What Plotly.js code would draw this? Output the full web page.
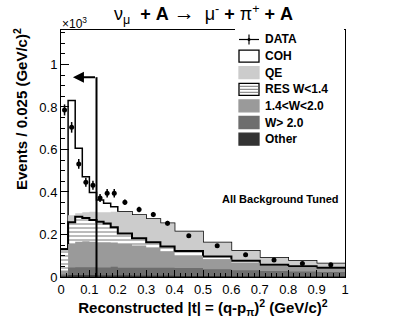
<!DOCTYPE html>
<html>
<head>
<meta charset="utf-8">
<script src="https://cdn.plot.ly/plotly-3.0.1.min.js"></script>
<style>
html, body { margin: 0; padding: 0; background: #fff; }
#chart { width: 407px; height: 328px; }
</style>
</head>
<body>
<div id="chart"></div>
<script>
// |t| binning, (GeV/c)^2 -- 0.025 wide up to 0.2, then 0.05, then 0.1
var binEdges = [0, 0.025, 0.05, 0.075, 0.1, 0.125, 0.15, 0.175, 0.2, 0.25, 0.3, 0.35, 0.4, 0.5, 0.6, 0.7, 0.8, 0.9, 1.0];

// data points (x10^3 events / 0.025 (GeV/c)^2)
var dataT = [0.0125, 0.0375, 0.0625, 0.0875, 0.1125, 0.1375, 0.1625, 0.1875, 0.225, 0.275, 0.325, 0.375, 0.45, 0.55, 0.65, 0.75, 0.85, 0.95];
var dataY = [0.786, 0.704, 0.532, 0.446, 0.432, 0.372, 0.394, 0.394, 0.352, 0.318, 0.294, 0.253, 0.194, 0.147, 0.105, 0.080, 0.063, 0.058];
var dataErr = [0.026, 0.025, 0.023, 0.021, 0.021, 0.019, 0.020, 0.020, 0.013, 0.013, 0.012, 0.011, 0.007, 0.006, 0.005, 0.005, 0.004, 0.004];

// top of each layer of the stacked MC (cumulative, read per bin)
var cohTop   = [0.132, 0.830, 0.606, 0.472, 0.398, 0.362, 0.347, 0.331, 0.307, 0.292, 0.273, 0.253, 0.214, 0.162, 0.124, 0.091, 0.076, 0.064];
var qeTop    = [0.132, 0.290, 0.300, 0.305, 0.307, 0.305, 0.305, 0.307, 0.307, 0.292, 0.273, 0.253, 0.214, 0.162, 0.124, 0.091, 0.076, 0.064];
var resTop   = [0.130, 0.258, 0.284, 0.278, 0.268, 0.260, 0.252, 0.234, 0.205, 0.182, 0.163, 0.143, 0.122, 0.096, 0.077, 0.058, 0.051, 0.044];
var w14Top   = [0.030, 0.155, 0.166, 0.168, 0.166, 0.164, 0.163, 0.162, 0.155, 0.148, 0.136, 0.120, 0.100, 0.084, 0.068, 0.052, 0.046, 0.038];
var w20Top   = [0.012, 0.045, 0.046, 0.046, 0.046, 0.045, 0.045, 0.048, 0.044, 0.044, 0.043, 0.043, 0.042, 0.036, 0.032, 0.028, 0.026, 0.024];
var otherTop = [0.004, 0.008, 0.008, 0.008, 0.008, 0.007, 0.007, 0.007, 0.007, 0.006, 0.006, 0.006, 0.005, 0.005, 0.004, 0.004, 0.003, 0.003];

// signal region cut
var cutT = 0.125;
var cutY = 0.94;
var cutArrowEnd = 0.042;

var legendLabels = ['DATA', 'COH', 'QE', 'RES W&lt;1.4', '1.4&lt;W&lt;2.0', 'W&gt; 2.0', 'Other'];

var COLORS = {
    coh: '#ffffff',
    qe: '#cccccc',
    res: '#ffffff',
    w14: '#9a9a9a',
    w20: '#6e6e6e',
    other: '#333333'
};
var FONT = 'Liberation Sans, Arial, Helvetica, sans-serif';
var SP = '\u00a0\u00a0';

// plot frame in pixels (ROOT pad)
var PLOT = { l: 61, t: 30, w: 284, h: 247 };
function px2x(px) { return (px - PLOT.l) / PLOT.w; }
function px2y(py) { return (PLOT.t + PLOT.h - py) / PLOT.h; }

// histogram drawn as a filled step line, ROOT THStack style (largest first)
function stepTrace(tops, fillcolor, lineColor, lineWidth, pattern) {
    var tr = {
        x: binEdges,
        y: tops.concat([tops[tops.length - 1]]),
        type: 'scatter',
        mode: 'lines',
        line: { shape: 'hv', color: lineColor, width: lineWidth },
        fill: 'tozeroy',
        fillcolor: fillcolor,
        showlegend: false,
        hoverinfo: 'skip'
    };
    if (pattern) tr.fillpattern = pattern;
    return tr;
}

var traces = [
    stepTrace(cohTop, COLORS.coh, '#000', 1.5),
    stepTrace(qeTop, COLORS.qe, COLORS.qe, 0),
    stepTrace(resTop, COLORS.res, '#000', 2,
        { shape: '-', bgcolor: '#ffffff', fgcolor: '#555555', size: 4, solidity: 0.2 }),
    stepTrace(w14Top, COLORS.w14, COLORS.w14, 0),
    stepTrace(w20Top, COLORS.w20, COLORS.w20, 0),
    stepTrace(otherTop, COLORS.other, COLORS.other, 0),
    {
        x: dataT,
        y: dataY,
        type: 'scatter',
        mode: 'markers',
        marker: { color: '#000', size: 5 },
        error_y: { type: 'data', array: dataErr, visible: true, color: '#000', thickness: 1.5, width: 0 },
        showlegend: false,
        hoverinfo: 'skip'
    }
];

// cut line + arrow
var shapes = [
    { type: 'line', xref: 'x', yref: 'y', x0: cutT, x1: cutT, y0: 0, y1: cutY, line: { color: '#000', width: 2 } },
    // legend pad covers the frame, as in the original
    { type: 'rect', xref: 'paper', yref: 'paper', x0: px2x(235), x1: px2x(344), y0: px2y(150), y1: px2y(27),
      fillcolor: '#fff', line: { width: 0 } }
];
var annotations = [
    { xref: 'x', yref: 'y', axref: 'x', ayref: 'y', x: cutArrowEnd, y: cutY, ax: cutT, ay: cutY,
      text: '', showarrow: true, arrowhead: 2, arrowsize: 1.1, arrowwidth: 2, arrowcolor: '#000', standoff: 0 },
    { xref: 'paper', yref: 'paper', x: px2x(341), y: px2y(199), xanchor: 'right', yanchor: 'middle',
      text: '<b>All Background Tuned</b>', showarrow: false, font: { family: FONT, size: 11, color: '#000' } },
    { xref: 'paper', yref: 'paper', x: px2x(60), y: px2y(23), xanchor: 'left', yanchor: 'middle',
      text: '×10<sup>3</sup>', showarrow: false, font: { family: FONT, size: 12, color: '#000' } },
    { xref: 'paper', yref: 'paper', x: px2x(20), y: px2y(26), xanchor: 'center', yanchor: 'top', textangle: -90,
      text: '<b>Events / 0.025 (GeV/c)<sup>2</sup></b>', showarrow: false, font: { family: FONT, size: 15, color: '#000' } }
];

// legend, drawn like the ROOT TLegend
var legFill = [null, COLORS.coh, COLORS.qe, COLORS.res, COLORS.w14, COLORS.w20, COLORS.other];
var legLine = [null, '#000', COLORS.qe, '#000', COLORS.w14, COLORS.w20, COLORS.other];
var boxX0 = 239, boxX1 = 259, textX = 263, rowY0 = 39.5, rowStep = 16.6;
legendLabels.forEach(function (label, i) {
    var cy = rowY0 + i * rowStep;
    if (i === 0) {
        shapes.push({ type: 'line', xref: 'paper', yref: 'paper', x0: px2x(boxX0), x1: px2x(boxX1), y0: px2y(cy), y1: px2y(cy), line: { color: '#000', width: 1.2 } });
        shapes.push({ type: 'line', xref: 'paper', yref: 'paper', x0: px2x(249), x1: px2x(249), y0: px2y(cy - 5), y1: px2y(cy + 5), line: { color: '#000', width: 1.2 } });
        shapes.push({ type: 'circle', xref: 'paper', yref: 'paper', x0: px2x(247.5), x1: px2x(250.5), y0: px2y(cy + 1.5), y1: px2y(cy - 1.5), fillcolor: '#000', line: { width: 0 } });
    } else {
        shapes.push({ type: 'rect', xref: 'paper', yref: 'paper', x0: px2x(boxX0), x1: px2x(boxX1), y0: px2y(cy + 6), y1: px2y(cy - 6),
            fillcolor: legFill[i], line: { color: legLine[i], width: 1.3 } });
        if (i === 3) {
            [-3, 0, 3].forEach(function (dy) {
                shapes.push({ type: 'line', xref: 'paper', yref: 'paper', x0: px2x(boxX0 + 1), x1: px2x(boxX1 - 1), y0: px2y(cy + dy), y1: px2y(cy + dy), line: { color: '#777', width: 1 } });
            });
        }
    }
    annotations.push({ xref: 'paper', yref: 'paper', x: px2x(textX), y: px2y(cy), xanchor: 'left', yanchor: 'middle',
        text: '<b>' + label + '</b>', showarrow: false, font: { family: FONT, size: 12, color: '#000' } });
});

var layout = {
    width: 407,
    height: 328,
    margin: { l: PLOT.l, r: 407 - PLOT.l - PLOT.w, t: PLOT.t, b: 328 - PLOT.t - PLOT.h },
    paper_bgcolor: '#fff',
    plot_bgcolor: '#fff',
    showlegend: false,
    font: { family: FONT, size: 13, color: '#000' },
    title: {
        text: 'ν<sub>μ</sub>' + SP + '<b>+ A</b> <span style="font-size:21px">→</span>' + SP + 'μ<sup>-</sup> <b>+</b> π<sup>+</sup> <b>+ A</b>',
        font: { family: FONT, size: 18, color: '#000' },
        x: 0.5, xanchor: 'center', y: 1 - 14 / 328, yanchor: 'middle'
    },
    xaxis: {
        range: [0, 1], tick0: 0, dtick: 0.1,
        ticks: 'inside', ticklen: 7, tickwidth: 1, tickcolor: '#000',
        minor: { dtick: 0.02, ticks: 'inside', ticklen: 4, tickcolor: '#000', tickwidth: 1 },
        showline: true, linecolor: '#000', linewidth: 1, mirror: true,
        showgrid: false, zeroline: false,
        tickfont: { family: FONT, size: 13 },
        title: { text: '<b>Reconstructed |t| = (q-p<sub>π</sub>)<sup>2</sup> (GeV/c)<sup>2</sup></b>', font: { family: FONT, size: 15 }, standoff: 4 }
    },
    yaxis: {
        range: [0, 1.162], tick0: 0, dtick: 0.2,
        ticks: 'inside', ticklen: 8, tickwidth: 1, tickcolor: '#000',
        minor: { dtick: 0.05, ticks: 'inside', ticklen: 4, tickcolor: '#000', tickwidth: 1 },
        showline: true, linecolor: '#000', linewidth: 1, mirror: true,
        showgrid: false, zeroline: false,
        tickfont: { family: FONT, size: 13 }
    },
    shapes: shapes,
    annotations: annotations
};

Plotly.newPlot('chart', traces, layout, { staticPlot: true });
</script>
</body>
</html>
